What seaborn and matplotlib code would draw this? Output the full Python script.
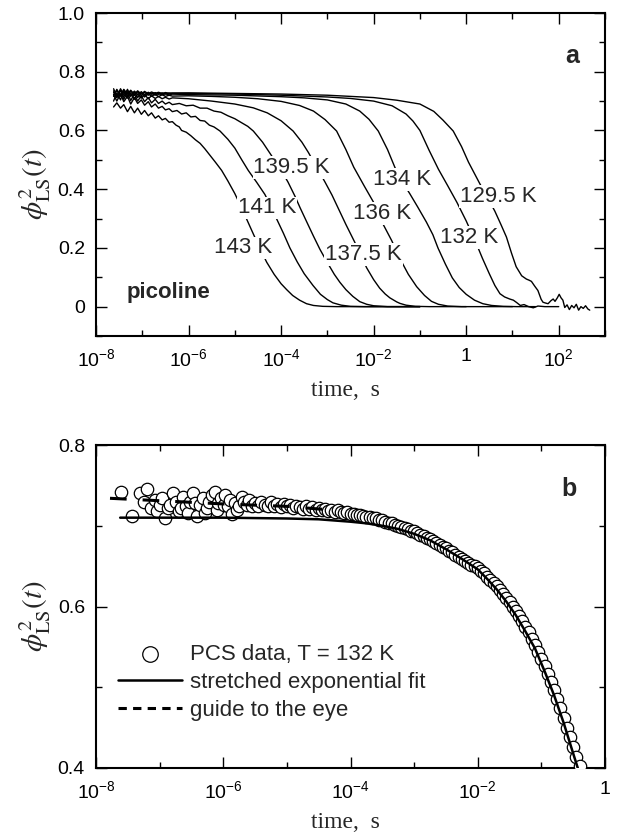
import numpy as np
import matplotlib
matplotlib.use("Agg")
import matplotlib.pyplot as plt
from matplotlib.ticker import FixedLocator, FixedFormatter, NullFormatter
import seaborn as sns

# ---------------- data: panel a (log10 time, phi) ----------------
temps = ['143 K', '141 K', '139.5 K', '137.5 K', '136 K', '134 K', '132 K', '129.5 K']

early_logt = [-7.62, -7.55, -7.47, -7.40, -7.32, -7.25, -7.17, -7.10, -7.02, -6.95,
              -6.87, -6.80, -6.72, -6.65, -6.57, -6.50, -6.42, -6.35]

logt_143 = early_logt + [-6.27, -6.20, -6.15, -6.05, -5.95, -5.85, -5.75, -5.65, -5.55, -5.42,
                         -5.285, -5.15, -5.0, -4.87, -4.75, -4.59, -4.45, -4.31, -4.15, -4.0,
                         -3.88, -3.75, -3.6, -3.45, -3.3, -3.1, -2.8, -1.0]
phi_143 = [0.680, 0.694, 0.676, 0.688, 0.664, 0.682, 0.660, 0.676, 0.655, 0.668,
           0.650, 0.660, 0.642, 0.650, 0.636, 0.641, 0.628, 0.630,
           0.618, 0.612, 0.600, 0.594, 0.582, 0.568, 0.556, 0.538, 0.518, 0.492,
           0.464, 0.428, 0.385, 0.342, 0.300, 0.244, 0.196, 0.151, 0.110, 0.078,
           0.058, 0.038, 0.022, 0.010, 0.004, 0.001, 0.0, 0.0]

logt_141 = early_logt + [-6.25, -6.15, -6.05, -5.95, -5.85, -5.75, -5.65, -5.55, -5.45, -5.32,
                         -5.15, -5.0, -4.85, -4.71, -4.53, -4.35, -4.2, -4.1, -3.95, -3.81,
                         -3.65, -3.5, -3.31, -3.15, -3.0, -2.88, -2.7, -2.5, -2.2, -1.0]
phi_141 = [0.722, 0.700, 0.725, 0.698, 0.716, 0.690, 0.712, 0.692, 0.704, 0.686,
           0.698, 0.680, 0.690, 0.676, 0.682, 0.670, 0.674, 0.664,
           0.668, 0.656, 0.660, 0.646, 0.648, 0.634, 0.632, 0.618, 0.612, 0.598,
           0.570, 0.540, 0.500, 0.464, 0.424, 0.382, 0.335, 0.300, 0.250, 0.200,
           0.152, 0.112, 0.072, 0.042, 0.024, 0.013, 0.005, 0.001, 0.0, 0.0]

logt_1395 = early_logt + [-6.2, -6.05, -5.9, -5.75, -5.6, -5.45, -5.3, -5.15, -5.0, -4.85,
                          -4.72, -4.6, -4.4, -4.21, -4.0, -3.85, -3.7, -3.59, -3.45, -3.3,
                          -3.16, -3.0, -2.85, -2.73, -2.6, -2.45, -2.3, -2.15, -2.0, -1.7, -1.0]
phi_1395 = [0.735, 0.712, 0.738, 0.706, 0.730, 0.702, 0.724, 0.700, 0.718, 0.698,
            0.712, 0.694, 0.706, 0.692, 0.700, 0.690, 0.696, 0.688,
            0.692, 0.684, 0.686, 0.676, 0.676, 0.666, 0.662, 0.650, 0.640, 0.626,
            0.614, 0.598, 0.560, 0.515, 0.465, 0.424, 0.376, 0.337, 0.290, 0.240,
            0.195, 0.150, 0.110, 0.083, 0.058, 0.035, 0.017, 0.008, 0.003, 0.0, 0.0]

logt_1375 = early_logt + [-6.0, -5.5, -5.0, -4.6, -4.3, -4.0, -3.74, -3.55, -3.41, -3.25,
                          -3.05, -2.9, -2.75, -2.6, -2.41, -2.28, -2.15, -2.0, -1.87, -1.75,
                          -1.65, -1.5, -1.43, -1.3, -1.1, -0.8, 0.0]
phi_1375 = [0.700, 0.728, 0.704, 0.734, 0.710, 0.728, 0.706, 0.724, 0.710, 0.722,
            0.708, 0.718, 0.709, 0.716, 0.708, 0.713, 0.707, 0.711,
            0.708, 0.700, 0.690, 0.677, 0.660, 0.633, 0.598, 0.560, 0.525, 0.480,
            0.424, 0.380, 0.330, 0.280, 0.220, 0.175, 0.132, 0.092, 0.063, 0.043,
            0.030, 0.016, 0.011, 0.005, 0.001, 0.0, 0.0]

logt_136 = early_logt + [-6.0, -5.5, -5.0, -4.5, -4.0, -3.6, -3.3, -3.05, -2.8, -2.6,
                         -2.43, -2.2, -2.0, -1.8, -1.61, -1.43, -1.25, -1.07, -0.9, -0.75,
                         -0.6, -0.4, -0.1, 1.0]
phi_136 = [0.742, 0.718, 0.736, 0.714, 0.740, 0.716, 0.732, 0.712, 0.728, 0.714,
           0.726, 0.716, 0.724, 0.715, 0.722, 0.716, 0.720, 0.717,
           0.718, 0.716, 0.713, 0.708, 0.699, 0.685, 0.666, 0.637, 0.598, 0.535,
           0.475, 0.410, 0.355, 0.282, 0.225, 0.163, 0.110, 0.068, 0.038, 0.018,
           0.008, 0.002, 0.0, 0.0]

logt_134 = early_logt + [-6.0, -5.0, -4.0, -3.5, -3.0, -2.6, -2.3, -2.1, -1.9, -1.7,
                         -1.54, -1.38, -1.22, -1.05, -0.86, -0.72, -0.61, -0.45, -0.3, -0.15,
                         0.0, 0.18, 0.36, 0.55, 0.8, 1.1, 1.5]
phi_134 = [0.716, 0.740, 0.720, 0.738, 0.718, 0.734, 0.720, 0.732, 0.718, 0.730,
           0.720, 0.727, 0.720, 0.726, 0.721, 0.725, 0.721, 0.724,
           0.722, 0.720, 0.715, 0.711, 0.704, 0.690, 0.666, 0.638, 0.598, 0.535,
           0.474, 0.425, 0.385, 0.340, 0.288, 0.245, 0.200, 0.145, 0.098, 0.065,
           0.042, 0.022, 0.010, 0.004, 0.001, 0.0, 0.0]

logt_132 = early_logt + [-6.0, -5.0, -4.0, -3.0, -2.5, -2.0, -1.6, -1.3, -1.15, -1.0,
                         -0.8, -0.6, -0.4, -0.2, 0.0, 0.2, 0.35, 0.5, 0.62, 0.73,
                         0.83, 0.94, 1.02, 1.09, 1.17, 1.25, 1.35, 1.45, 1.55, 1.7, 2.0]
phi_132 = [0.730, 0.712, 0.742, 0.722, 0.736, 0.718, 0.734, 0.722, 0.732, 0.721,
           0.730, 0.723, 0.729, 0.723, 0.728, 0.724, 0.727, 0.725,
           0.726, 0.724, 0.720, 0.714, 0.709, 0.700, 0.684, 0.656, 0.632, 0.600,
           0.532, 0.468, 0.412, 0.355, 0.292, 0.222, 0.165, 0.112, 0.072, 0.044,
           0.033, 0.026, 0.022, 0.014, 0.004, 0.007, 0.0, -0.004, 0.002, 0.0, 0.0]

logt_1295 = early_logt + [-6.0, -5.0, -4.0, -3.0, -2.0, -1.5, -1.0, -0.7, -0.5, -0.28,
                          -0.1, 0.05, 0.15, 0.29, 0.45, 0.62, 0.75, 0.87, 0.98, 1.08,
                          1.2, 1.3, 1.36, 1.41, 1.48, 1.55, 1.62, 1.66, 1.72, 1.77,
                          1.83, 1.88, 1.92, 1.97, 2.01, 2.05, 2.09, 2.13, 2.18, 2.23,
                          2.28, 2.33, 2.38, 2.43, 2.48, 2.53, 2.58, 2.63, 2.67]
phi_1295 = [0.722, 0.736, 0.716, 0.740, 0.724, 0.737, 0.723, 0.735, 0.724, 0.733,
            0.725, 0.731, 0.726, 0.730, 0.726, 0.729, 0.727, 0.728,
            0.728, 0.726, 0.724, 0.720, 0.712, 0.703, 0.690, 0.665, 0.635, 0.598,
            0.545, 0.492, 0.462, 0.420, 0.375, 0.325, 0.280, 0.237, 0.182, 0.136,
            0.105, 0.094, 0.090, 0.086, 0.070, 0.055, 0.025, 0.015, 0.012, 0.010,
            0.020, 0.026, 0.018, 0.030, 0.042, 0.030, 0.022, -0.003, 0.006, -0.010,
            0.004, -0.004, 0.008, -0.012, 0.000, -0.006, 0.003, -0.008, -0.012]

curves_logt = [logt_143, logt_141, logt_1395, logt_1375, logt_136, logt_134, logt_132, logt_1295]
curves_phi = [phi_143, phi_141, phi_1395, phi_1375, phi_136, phi_134, phi_132, phi_1295]

# label anchors (log10 time, phi) for the temperature annotations
label_logt = [-4.82, -4.31, -3.77, -2.22, -1.81, -1.38, 0.06, 0.70]
label_phi = [0.200, 0.336, 0.475, 0.177, 0.317, 0.433, 0.236, 0.375]

# ---------------- data: panel b ----------------
pcs_logt = [-7.60, -7.44, -7.31, -7.25, -7.20, -7.13, -7.07, -7.04, -7.00, -6.96,
            -6.92, -6.87, -6.83, -6.79, -6.74, -6.69, -6.66, -6.63, -6.58, -6.55,
            -6.53, -6.48, -6.45, -6.42, -6.37, -6.32, -6.28, -6.26, -6.22, -6.18,
            -6.13, -6.10, -6.08, -6.03, -5.99, -5.97, -5.92, -5.90, -5.87, -5.82,
            -5.79, -5.76, -5.71, -5.67, -5.63, -5.59, -5.55,
            -5.50, -5.45, -5.40, -5.35, -5.30, -5.25, -5.20, -5.15, -5.10, -5.05,
            -5.00, -4.95, -4.90, -4.85, -4.80, -4.75, -4.70, -4.65, -4.60, -4.55,
            -4.50, -4.45, -4.40, -4.35, -4.30, -4.25, -4.20, -4.15, -4.10, -4.05,
            -4.00, -3.95, -3.90, -3.85, -3.80, -3.75, -3.70, -3.65, -3.60, -3.55,
            -3.50, -3.45, -3.40, -3.35, -3.30, -3.25, -3.20, -3.15, -3.10, -3.05,
            -3.00, -2.95, -2.90, -2.85, -2.80, -2.75, -2.70, -2.65, -2.60, -2.55,
            -2.50, -2.45, -2.40, -2.35, -2.30, -2.25, -2.20, -2.15, -2.10, -2.05,
            -2.00, -1.95, -1.90, -1.85, -1.80, -1.75, -1.70, -1.65, -1.60, -1.55,
            -1.50, -1.45, -1.40, -1.35, -1.30, -1.25, -1.20, -1.15, -1.10, -1.05,
            -1.00, -0.95, -0.90, -0.85, -0.80, -0.75, -0.70, -0.65, -0.60, -0.55,
            -0.50, -0.45, -0.40]
pcs_phi = [0.742, 0.712, 0.740, 0.730, 0.746, 0.722, 0.732, 0.718, 0.726, 0.734,
           0.710, 0.722, 0.726, 0.740, 0.730, 0.718, 0.722, 0.736, 0.724, 0.716,
           0.730, 0.740, 0.728, 0.712, 0.726, 0.734, 0.716, 0.722, 0.730, 0.738,
           0.742, 0.720, 0.728, 0.734, 0.726, 0.738, 0.724, 0.732, 0.714, 0.728,
           0.720, 0.724, 0.736, 0.730, 0.726, 0.732, 0.724,
           0.728, 0.725, 0.730, 0.726, 0.724, 0.729, 0.725, 0.727, 0.723, 0.727,
           0.724, 0.726, 0.722, 0.725, 0.723, 0.721, 0.724, 0.721, 0.723, 0.720,
           0.722, 0.719, 0.721, 0.718, 0.720, 0.717, 0.719, 0.717, 0.716, 0.717,
           0.715, 0.715, 0.713, 0.713, 0.712, 0.711, 0.711, 0.709, 0.709, 0.707,
           0.707, 0.705, 0.704, 0.703, 0.701, 0.700, 0.699, 0.697, 0.696, 0.694,
           0.693, 0.691, 0.689, 0.687, 0.685, 0.683, 0.681, 0.679, 0.676, 0.674,
           0.672, 0.669, 0.667, 0.664, 0.661, 0.659, 0.656, 0.654, 0.652, 0.650,
           0.648, 0.644, 0.641, 0.637, 0.633, 0.629, 0.625, 0.620, 0.616, 0.611,
           0.606, 0.600, 0.594, 0.588, 0.582, 0.575, 0.568, 0.560, 0.552, 0.544,
           0.535, 0.526, 0.516, 0.506, 0.496, 0.485, 0.474, 0.462, 0.450, 0.438,
           0.426, 0.414, 0.402]

fit_logt = [-7.62, -7.0, -6.0, -5.0, -4.5, -4.0, -3.75, -3.5, -3.25, -3.0,
            -2.75, -2.5, -2.25, -2.0, -1.85, -1.7, -1.55, -1.4, -1.25, -1.1,
            -0.95, -0.8, -0.65, -0.5, -0.42]
fit_phi = [0.710, 0.710, 0.710, 0.709, 0.708, 0.705, 0.703, 0.700, 0.696, 0.690,
           0.682, 0.671, 0.659, 0.646, 0.634, 0.621, 0.606, 0.589, 0.569, 0.548,
           0.520, 0.490, 0.456, 0.418, 0.398]

guide_logt = [-7.78, -7.0, -6.0, -5.0, -4.38]
guide_phi = [0.734, 0.731, 0.727, 0.724, 0.720]

# ---------------- style ----------------
sns.set_theme(style="ticks")
plt.rcParams['font.family'] = ['Liberation Sans', 'DejaVu Sans']
plt.rcParams['mathtext.fontset'] = 'stix'
plt.rcParams['lines.scale_dashes'] = False

TICK_FS = 14
ANN_FS = 16
LABEL_FS = 17

fig = plt.figure(figsize=(6.27, 8.34), dpi=100)
W, H = 627.0, 834.0
ax1 = fig.add_axes([96 / W, 1 - 336 / H, 509 / W, 323 / H])
ax2 = fig.add_axes([96 / W, 1 - 768 / H, 509 / W, 323 / H])


def style_axes(ax, lo, hi, ymajor, ylabels, yminor, ylim):
    ax.set_xscale('log')
    ax.set_xlim(10.0 ** lo, 10.0 ** hi)
    ax.set_ylim(*ylim)
    exps = list(range(lo, hi + 1))
    major = [10.0 ** e for e in exps if e % 2 == 0]
    minor = [10.0 ** e for e in exps if e % 2 != 0]
    ax.xaxis.set_major_locator(FixedLocator(major))
    ax.xaxis.set_minor_locator(FixedLocator(minor))
    labs = ['1' if e == 0 else r'$\mathregular{10^{%d}}$' % e for e in exps if e % 2 == 0]
    ax.xaxis.set_major_formatter(FixedFormatter(labs))
    ax.xaxis.set_minor_formatter(NullFormatter())
    ax.yaxis.set_major_locator(FixedLocator(ymajor))
    ax.yaxis.set_major_formatter(FixedFormatter(ylabels))
    ax.yaxis.set_minor_locator(FixedLocator(yminor))
    ax.yaxis.set_minor_formatter(NullFormatter())
    ax.tick_params(which='both', direction='in', top=True, right=True,
                   width=1.0, colors='black', labelsize=TICK_FS)
    ax.tick_params(which='major', length=8)
    ax.tick_params(which='minor', length=4.3)
    ax.tick_params(axis='x', which='major', pad=9)
    ax.tick_params(axis='y', which='major', pad=8)
    for sp in ax.spines.values():
        sp.set_linewidth(1.5)
        sp.set_color('black')
    ax.set_xlabel('time,  s', family='Liberation Serif', fontsize=LABEL_FS)
    ax.set_ylabel(r'$\phi^{2}_{\mathrm{LS}}(t)$', fontsize=21)
    ax.xaxis.set_label_coords(0.49, -0.135)
    ax.yaxis.set_label_coords(-0.085, 0.47)
    ax.set_facecolor('white')


# ---------------- panel a ----------------
for lt, ph in zip(curves_logt, curves_phi):
    sns.lineplot(x=10.0 ** np.array(lt), y=np.array(ph), ax=ax1, color='black',
                 linewidth=1.0, estimator=None, sort=False, legend=False)

for name, lx, ly in zip(temps, label_logt, label_phi):
    ax1.text(10.0 ** lx, ly, name, ha='center', va='center', fontsize=ANN_FS,
             bbox=dict(facecolor='white', edgecolor='none', pad=0.6), zorder=5)

style_axes(ax1, -8, 3, [0, 0.2, 0.4, 0.6, 0.8, 1.0],
           ['0', '0.2', '0.4', '0.6', '0.8', '1.0'],
           [-0.1, 0.1, 0.3, 0.5, 0.7, 0.9], (-0.1, 1.0))
ax1.text(0.061, 0.117, 'picoline', transform=ax1.transAxes, fontsize=ANN_FS,
         fontweight='bold', ha='left', va='baseline')
ax1.text(0.935, 0.868, 'a', transform=ax1.transAxes, fontsize=18,
         fontweight='bold', ha='center', va='center')

# ---------------- panel b ----------------
sns.scatterplot(x=10.0 ** np.array(pcs_logt), y=np.array(pcs_phi), ax=ax2,
                marker='o', s=80, facecolor='white', edgecolor='black',
                linewidth=0.9, label='PCS data, T = 132 K', zorder=3)
sns.lineplot(x=10.0 ** np.array(fit_logt), y=np.array(fit_phi), ax=ax2,
             color='black', linewidth=1.8, estimator=None, sort=False,
             label='stretched exponential fit', zorder=4)
sns.lineplot(x=10.0 ** np.array(guide_logt), y=np.array(guide_phi), ax=ax2,
             color='black', linewidth=2.2, estimator=None, sort=False,
             dashes=False, label='guide to the eye', zorder=4)
ax2.lines[-1].set_dashes((12, 11.5))

style_axes(ax2, -8, 0, [0.4, 0.6, 0.8], ['0.4', '0.6', '0.8'],
           [0.5, 0.7], (0.4, 0.8))
ax2.text(0.93, 0.865, 'b', transform=ax2.transAxes, fontsize=18,
         fontweight='bold', ha='center', va='center')

leg = ax2.legend(loc='center left', bbox_to_anchor=(0.043, 0.265), frameon=False,
                 fontsize=ANN_FS, handlelength=2.9, handletextpad=0.35,
                 labelspacing=0.3, borderpad=0, borderaxespad=0, markerscale=1.25)
leg.legend_handles[2].set_linestyle((0, (6, 4.5)))

fig.savefig('out.png', dpi=100, facecolor='white')
